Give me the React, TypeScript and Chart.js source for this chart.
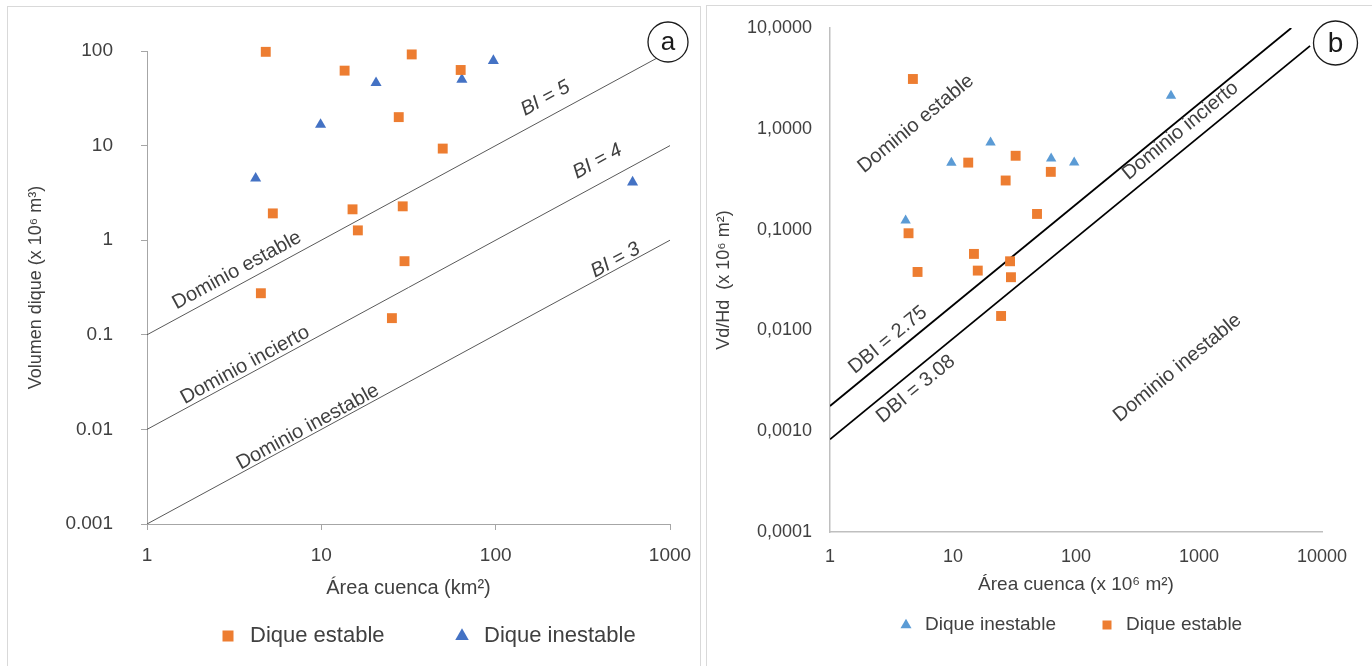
import React, { useEffect, useRef } from 'react';
import { Chart, registerables } from 'chart.js';

Chart.register(...registerables);

const FAMILY = "'Liberation Sans', Arial, Helvetica, sans-serif";
const TEXT = '#404040';
const ORANGE = '#ED7D31';
const BLUE_A = '#4472C4';
const BLUE_B = '#5B9BD5';

// ---------------- Panel a data ----------------
const areaStableA = [4.8, 13.6, 33, 63, 27.8, 49.7, 5.27, 15.1, 16.2, 29.3, 30, 4.5, 25.4];
const volStableA = [98, 62, 92, 63, 20, 9.3, 1.92, 2.12, 1.27, 2.28, 0.6, 0.275, 0.15];
const areaUnstableA = [4.2, 9.9, 20.6, 64, 97, 610];
const volUnstableA = [4.5, 16.7, 46, 50, 79, 4.1];
const lineAreaA = [1, 1000];
const bi5A = [0.1, 100];
const bi4A = [0.01, 10];
const bi3A = [0.001, 1];
const xTicksA = [1, 10, 100, 1000];
const xTickLabelsA = ['1', '10', '100', '1000'];
const yTicksA = [0.001, 0.01, 0.1, 1, 10, 100];
const yTickLabelsA = ['0.001', '0.01', '0.1', '1', '10', '100'];

// ---------------- Panel b data ----------------
const areaUnstableB = [4.12, 9.7, 20.2, 62.8, 96.7, 592];
const ratioUnstableB = [0.123, 0.46, 0.73, 0.507, 0.462, 2.13];
const areaStableB = [4.72, 13.3, 32.3, 26.8, 62.4, 48.2, 4.35, 14.8, 29.1, 5.15, 15.9, 29.6, 24.6];
const ratioStableB = [3.12, 0.462, 0.54, 0.307, 0.374, 0.143, 0.092, 0.0574, 0.0485, 0.038, 0.0392, 0.0337, 0.0139];
const lineArea275B = [1, 5623];
const dbi275B = [0.00178, 10];
const lineArea308B = [1, 8000];
const dbi308B = [0.00083, 6.65];
const xTicksB = [1, 10, 100, 1000, 10000];
const xTickLabelsB = ['1', '10', '100', '1000', '10000'];
const yTicksB = [0.0001, 0.001, 0.01, 0.1, 1, 10];
const yTickLabelsB = ['0,0001', '0,0010', '0,0100', '0,1000', '1,0000', '10,0000'];

// ---------------- annotations (text only, placed in data space) ----------------
const annotationsA = [
  { text: 'BI = 5', x: 193, y: 31.5, italic: true },
  { text: 'BI = 4', x: 384, y: 6.8, italic: true },
  { text: 'BI = 3', x: 487, y: 0.614, italic: true },
  { text: 'Dominio estable', x: 3.28, y: 0.48, italic: false },
  { text: 'Dominio incierto', x: 3.65, y: 0.0478, italic: false },
  { text: 'Dominio inestable', x: 8.37, y: 0.0106, italic: false },
];
const annotationsB = [
  { text: 'Dominio estable', x: 4.99, y: 1.12, italic: false },
  { text: 'Dominio incierto', x: 706, y: 0.955, italic: false },
  { text: 'Dominio inestable', x: 668, y: 0.00424, italic: false },
  { text: 'DBI = 2.75', x: 2.96, y: 0.00804, italic: false },
  { text: 'DBI = 3.08', x: 4.99, y: 0.00262, italic: false },
];

const zip = (xs: number[], ys: number[]) => xs.map((x, i) => ({ x, y: ys[i] }));

function measure(text: string, font: string) {
  const c = document.createElement('canvas').getContext('2d')!;
  c.font = font;
  return c.measureText(text).width;
}

type Spec = {
  left: number; top: number; w: number; h: number;
  area: { left: number; right: number; top: number; bottom: number };
  xMin: number; xMax: number; yMin: number; yMax: number;
  xTicks: number[]; xLabels: string[]; yTicks: number[]; yLabels: string[];
  tickFont: number; xTickPad: number; yTickPad: number; tickLen: number;
  axisColor: string; axisWidth: number;
  xTitle: string; xTitleFont: number; xTitleCenter: number;
  yTitle: string; yTitleFont: number; yTitleCenter: number;
  datasets: any[];
  legendFont: number; legendBox: number; legendFirstX: number; legendY: number; legendGap: number; legendFirstText: string;
  annotations: { text: string; x: number; y: number; italic: boolean }[];
  annotFont: number;
  circle: { dx: number; dy: number; r: number; letter: string; font: number };
};

function buildConfig(s: Spec): any {
  const legendBoxW = s.legendFont;
  const textW = measure(s.legendFirstText, `${s.legendFont}px ${FAMILY}`);
  const legendPad = Math.max(4, s.legendGap - (legendBoxW + s.legendFont / 2 + textW));
  const xHeight = s.h - 1 - s.area.bottom;
  const xTitleLH = s.xTitleFont * 1.2;
  const yTitleLH = s.yTitleFont * 1.2;

  const annotPlugin = {
    id: 'annot',
    afterDatasetsDraw(chart: any) {
      const { ctx, scales } = chart;
      const x = scales.x, y = scales.y;
      const ang = Math.atan2(
        y.getPixelForValue(10) - y.getPixelForValue(1),
        x.getPixelForValue(10) - x.getPixelForValue(1)
      );
      s.annotations.forEach((t) => {
        ctx.save();
        ctx.translate(x.getPixelForValue(t.x), y.getPixelForValue(t.y));
        ctx.rotate(ang);
        ctx.font = `${t.italic ? 'italic ' : ''}${s.annotFont}px ${FAMILY}`;
        ctx.fillStyle = TEXT;
        ctx.textAlign = 'center';
        ctx.textBaseline = 'middle';
        ctx.fillText(t.text, 0, 0);
        ctx.restore();
      });
    },
    afterDraw(chart: any) {
      const { ctx, chartArea } = chart;
      const cx = chartArea.right + s.circle.dx;
      const cy = chartArea.top + s.circle.dy;
      ctx.save();
      ctx.beginPath();
      ctx.arc(cx, cy, s.circle.r, 0, Math.PI * 2);
      ctx.fillStyle = '#ffffff';
      ctx.fill();
      ctx.lineWidth = 1.3;
      ctx.strokeStyle = '#1a1a1a';
      ctx.stroke();
      ctx.font = `${s.circle.font}px ${FAMILY}`;
      ctx.fillStyle = '#1a1a1a';
      ctx.textAlign = 'center';
      ctx.textBaseline = 'middle';
      ctx.fillText(s.circle.letter, cx, cy + 1);
      ctx.restore();
    },
  };

  const legendPosPlugin = {
    id: 'legendPos',
    afterLayout(chart: any) {
      const l = chart.legend;
      if (!l) return;
      l.left = s.legendFirstX - legendPad - legendBoxW / 2;
      l.right = chart.width + 600;
      l.top = s.legendY - legendPad - s.legendFont / 2;
      l.bottom = chart.height + 50;
      l.width = l.right - l.left;
      l.height = l.bottom - l.top;
    },
  };

  const tickFont = { family: FAMILY, size: s.tickFont };

  return {
    type: 'scatter',
    data: { datasets: s.datasets },
    plugins: [annotPlugin, legendPosPlugin],
    options: {
      responsive: false,
      animation: false,
      devicePixelRatio: 1,
      layout: {
        padding: { left: 0, right: s.w - s.area.right, top: s.area.top, bottom: 0 },
      },
      plugins: {
        tooltip: { enabled: false },
        legend: {
          display: true,
          position: 'bottom',
          align: 'start',
          maxHeight: 1,
          labels: {
            usePointStyle: true,
            boxHeight: s.legendBox,
            boxWidth: legendBoxW,
            padding: legendPad,
            color: TEXT,
            font: { family: FAMILY, size: s.legendFont },
            filter: (item: any) => item.datasetIndex < 2,
          },
        },
      },
      scales: {
        x: {
          type: 'logarithmic',
          position: 'bottom',
          min: s.xMin,
          max: s.xMax,
          afterBuildTicks: (sc: any) => { sc.ticks = s.xTicks.map((v) => ({ value: v })); },
          afterFit: (sc: any) => { sc.height = xHeight; sc.paddingLeft = 0; sc.paddingRight = 0; },
          ticks: {
            autoSkip: false,
            maxRotation: 0,
            padding: s.xTickPad,
            color: TEXT,
            font: tickFont,
            callback: (v: number) => { const i = s.xTicks.indexOf(v); return i >= 0 ? s.xLabels[i] : ''; },
          },
          grid: { drawOnChartArea: false, drawTicks: s.tickLen > 0, tickLength: s.tickLen, color: s.axisColor, lineWidth: 1 },
          border: { display: true, color: s.axisColor, width: s.axisWidth },
          title: {
            display: true,
            text: s.xTitle,
            color: TEXT,
            font: { family: FAMILY, size: s.xTitleFont },
            padding: { top: 0, bottom: s.area.bottom + xHeight - xTitleLH / 2 - s.xTitleCenter },
          },
        },
        y: {
          type: 'logarithmic',
          position: 'left',
          min: s.yMin,
          max: s.yMax,
          afterBuildTicks: (sc: any) => { sc.ticks = s.yTicks.map((v) => ({ value: v })); },
          afterFit: (sc: any) => { sc.width = s.area.left; sc.paddingTop = 0; sc.paddingBottom = 0; },
          ticks: {
            autoSkip: false,
            padding: s.yTickPad,
            color: TEXT,
            font: tickFont,
            callback: (v: number) => { const i = s.yTicks.indexOf(v); return i >= 0 ? s.yLabels[i] : ''; },
          },
          grid: { drawOnChartArea: false, drawTicks: s.tickLen > 0, tickLength: s.tickLen, color: s.axisColor, lineWidth: 1 },
          border: { display: true, color: s.axisColor, width: s.axisWidth },
          title: {
            display: true,
            text: s.yTitle,
            color: TEXT,
            font: { family: FAMILY, size: s.yTitleFont },
            padding: { top: s.yTitleCenter - yTitleLH / 2, bottom: 0 },
          },
        },
      },
    },
  };
}

const scatterDs = (label: string, pts: any[], color: string, style: string, r: number) => ({
  label,
  data: pts,
  pointStyle: style,
  pointRadius: r,
  pointHoverRadius: r,
  backgroundColor: color,
  borderColor: color,
  pointBackgroundColor: color,
  pointBorderColor: color,
  borderWidth: 0,
  pointBorderWidth: 0,
  showLine: false,
  clip: false,
});

const lineDs = (pts: any[], color: string, width: number) => ({
  label: '',
  data: pts,
  showLine: true,
  pointRadius: 0,
  pointHoverRadius: 0,
  borderColor: color,
  backgroundColor: color,
  borderWidth: width,
  fill: false,
  tension: 0,
});

const specA: Spec = {
  left: 8, top: 7, w: 690, h: 659,
  area: { left: 139, right: 662, top: 44, bottom: 517 },
  xMin: 1, xMax: 1000, yMin: 0.001, yMax: 100,
  xTicks: xTicksA, xLabels: xTickLabelsA, yTicks: yTicksA, yLabels: yTickLabelsA,
  tickFont: 19, xTickPad: 14, yTickPad: 28, tickLen: 6,
  axisColor: '#a6a6a6', axisWidth: 1,
  xTitle: 'Área cuenca (km²)', xTitleFont: 20, xTitleCenter: 581,
  yTitle: 'Volumen dique (x 10⁶ m³)', yTitleFont: 18, yTitleCenter: 28.5,
  datasets: [
    scatterDs('Dique estable', zip(areaStableA, volStableA), ORANGE, 'rect', 7),
    scatterDs('Dique inestable', zip(areaUnstableA, volUnstableA), BLUE_A, 'triangle', 6.4),
    lineDs(zip(lineAreaA, bi5A), '#595959', 1),
    lineDs(zip(lineAreaA, bi4A), '#595959', 1),
    lineDs(zip(lineAreaA, bi3A), '#595959', 1),
  ],
  legendFont: 22, legendBox: 11, legendFirstX: 220, legendY: 629, legendGap: 234, legendFirstText: 'Dique estable',
  annotations: annotationsA, annotFont: 20,
  circle: { dx: -2, dy: -9, r: 20, letter: 'a', font: 26 },
};

const specB: Spec = {
  left: 707, top: 6, w: 665, h: 660,
  area: { left: 123, right: 615, top: 22, bottom: 526 },
  xMin: 1, xMax: 10000, yMin: 0.0001, yMax: 10,
  xTicks: xTicksB, xLabels: xTickLabelsB, yTicks: yTicksB, yLabels: yTickLabelsB,
  tickFont: 18, xTickPad: 14, yTickPad: 18, tickLen: 0,
  axisColor: '#bfbfbf', axisWidth: 1.5,
  xTitle: 'Área cuenca (x 10⁶ m²)', xTitleFont: 19, xTitleCenter: 579,
  yTitle: 'Vd/Hd  (x 10⁶ m²)', yTitleFont: 18, yTitleCenter: 17.5,
  datasets: [
    scatterDs('Dique inestable', zip(areaUnstableB, ratioUnstableB), BLUE_B, 'triangle', 6),
    scatterDs('Dique estable', zip(areaStableB, ratioStableB), ORANGE, 'rect', 7),
    lineDs(zip(lineArea275B, dbi275B), '#000000', 1.8),
    lineDs(zip(lineArea308B, dbi308B), '#000000', 1.8),
  ],
  legendFont: 19, legendBox: 9, legendFirstX: 199, legendY: 619, legendGap: 201, legendFirstText: 'Dique inestable',
  annotations: annotationsB, annotFont: 20,
  circle: { dx: 13.5, dy: 15, r: 22, letter: 'b', font: 28 },
};

function Panel({ spec }: { spec: Spec }) {
  const ref = useRef<HTMLCanvasElement>(null);
  useEffect(() => {
    if (!ref.current) return;
    const chart = new Chart(ref.current, buildConfig(spec));
    return () => chart.destroy();
  }, [spec]);
  return (
    <canvas
      ref={ref}
      width={spec.w}
      height={spec.h}
      style={{ position: 'absolute', left: spec.left, top: spec.top, width: spec.w, height: spec.h }}
    />
  );
}

export default function App() {
  return (
    <div style={{ position: 'absolute', left: 0, top: 0, width: 1372, height: 666, overflow: 'hidden', background: '#ffffff' }}>
      <div style={{ position: 'absolute', left: 7, top: 6, width: 694, height: 700, border: '1px solid #d9d9d9', boxSizing: 'border-box' }} />
      <div style={{ position: 'absolute', left: 706, top: 5, width: 700, height: 700, border: '1px solid #d9d9d9', boxSizing: 'border-box' }} />
      <Panel spec={specA} />
      <Panel spec={specB} />
    </div>
  );
}
